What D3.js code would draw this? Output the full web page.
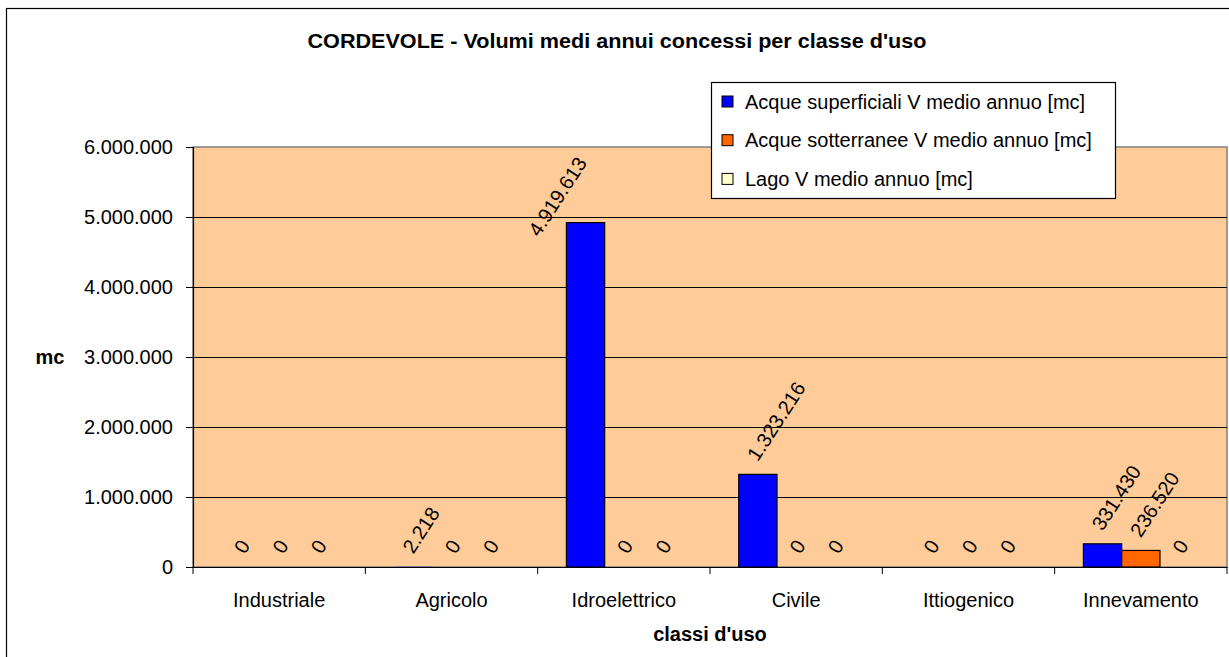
<!DOCTYPE html>
<html lang="it">
  <head>
    <meta charset="UTF-8" />
    <title>CORDEVOLE - Volumi medi annui</title>
    <style>
      body {
        margin: 0;
        background: #fff;
        font-family: "Liberation Sans", Arial, sans-serif;
      }
      svg text {
        font-family: "Liberation Sans", Arial, sans-serif;
      }
    </style>
  </head>
  <body>
    <svg id="chart" width="1229" height="657"></svg>

    <script src="https://d3js.org/d3.v7.min.js"></script>
    <script>
      // dati
      const categories = ["Industriale", "Agricolo", "Idroelettrico", "Civile", "Ittiogenico", "Innevamento"];
      const seriesNames = [
        "Acque superficiali V medio annuo [mc]",
        "Acque sotterranee V medio annuo [mc]",
        "Lago V medio annuo [mc]",
      ];
      const superficiali = [0, 2218, 4919613, 1323216, 0, 331430];
      const sotterranee = [0, 0, 0, 0, 0, 236520];
      const lago = [0, 0, 0, 0, 0, 0];
      const yTicks = [0, 1000000, 2000000, 3000000, 4000000, 5000000, 6000000];
      const colors = ["#0000FF", "#FF6600", "#FFFFCC"];

      const svg = d3.select("#chart");
      const pLeft = 193, pRight = 1227, pTop = 147, pBottom = 567;
      const fs = 20;

      const it = d3.formatLocale({ decimal: ",", thousands: ".", grouping: [3], currency: ["", ""] });
      const fmt = it.format(",d");

      // bordo area grafico
      svg.append("rect")
        .attr("x", 6.5).attr("y", 8.5)
        .attr("width", 1240).attr("height", 670)
        .attr("fill", "#fff").attr("stroke", "#000").attr("stroke-width", 1.2);

      const x = d3.scaleBand().domain(categories).range([pLeft, pRight]).padding(0);
      const y = d3.scaleLinear().domain([0, 6000000]).range([pBottom, pTop]);
      const barW = x.bandwidth() / 4.5;

      // area del tracciato
      svg.append("rect")
        .attr("x", pLeft).attr("y", pTop)
        .attr("width", pRight - pLeft).attr("height", pBottom - pTop)
        .attr("fill", "#FFCC99").attr("stroke", "#808080").attr("stroke-width", 1.5);

      // griglia
      svg.append("g")
        .attr("transform", `translate(${pLeft},0)`)
        .call(d3.axisLeft(y).tickValues(yTicks.slice(1, -1)).tickSize(-(pRight - pLeft)).tickFormat(""))
        .call((g) => g.select(".domain").remove())
        .selectAll("line").attr("stroke", "#000").attr("stroke-width", 1);

      // barre
      const series = [superficiali, sotterranee, lago];
      const bars = [];
      series.forEach((vals, s) => {
        vals.forEach((v, i) => {
          bars.push({ s, v, cat: categories[i], x0: x(categories[i]) + barW * (0.75 + s) });
        });
      });

      svg.append("g").selectAll("rect")
        .data(bars.filter((d) => d.v > 0))
        .join("rect")
        .attr("x", (d) => d.x0)
        .attr("y", (d) => y(d.v))
        .attr("width", barW)
        .attr("height", (d) => y(0) - y(d.v))
        .attr("fill", (d) => colors[d.s])
        .attr("stroke", (d) => (y(0) - y(d.v) < 1 ? "none" : "#000"))
        .attr("stroke-width", 1.2);

      // assi
      const yAxis = svg.append("g")
        .attr("transform", `translate(${pLeft},0)`)
        .call(d3.axisLeft(y).tickValues(yTicks).tickSize(7).tickPadding(13).tickFormat(fmt));
      yAxis.select(".domain").attr("stroke", "#000").attr("stroke-width", 1.2);
      yAxis.selectAll("line").attr("stroke", "#000");
      yAxis.selectAll("text").attr("font-size", fs).attr("fill", "#000");

      const xAxis = svg.append("g")
        .attr("transform", `translate(0,${pBottom})`)
        .call(d3.axisBottom(x).tickSize(0).tickPadding(26));
      xAxis.select(".domain").attr("stroke", "#000").attr("stroke-width", 1.2);
      xAxis.selectAll("text").attr("font-size", fs).attr("fill", "#000");

      // tacche ai bordi delle categorie
      svg.append("g").selectAll("line")
        .data(d3.range(categories.length + 1))
        .join("line")
        .attr("x1", (i) => pLeft + i * x.step()).attr("x2", (i) => pLeft + i * x.step())
        .attr("y1", pBottom).attr("y2", pBottom + 7)
        .attr("stroke", "#000");

      // etichette dei valori
      const ang = 57;
      const rad = (ang * Math.PI) / 180;
      const lbl = svg.append("g").selectAll("text")
        .data(bars)
        .join("text")
        .attr("font-size", fs)
        .attr("fill", "#000")
        .text((d) => fmt(d.v));
      lbl.each(function (d) {
        const t = d3.select(this);
        const cx = d.x0 + barW / 2;
        const by = y(d.v) - 12;
        const L = this.getComputedTextLength();
        if (by - L * Math.sin(rad) - 12 < pTop) {
          // troppo alta: resta dentro l'area, a sinistra della barra
          t.attr("text-anchor", "end")
            .attr("transform", `translate(${cx + 2},${pTop + 16}) rotate(${-ang})`);
        } else {
          t.attr("text-anchor", "start")
            .attr("transform", `translate(${cx + (d.v === 0 ? 4 : 0)},${by}) rotate(${-ang})`);
        }
      });

      // titoli
      svg.append("text")
        .attr("x", 617).attr("y", 48)
        .attr("text-anchor", "middle")
        .attr("font-size", 20).attr("font-weight", "bold")
        .attr("textLength", 619).attr("lengthAdjust", "spacingAndGlyphs")
        .text("CORDEVOLE - Volumi medi annui concessi per classe d'uso");

      svg.append("text")
        .attr("x", (pLeft + pRight) / 2).attr("y", 641)
        .attr("text-anchor", "middle")
        .attr("font-size", fs).attr("font-weight", "bold")
        .text("classi d'uso");

      svg.append("text")
        .attr("x", 50).attr("y", (pTop + pBottom) / 2 + 7)
        .attr("text-anchor", "middle")
        .attr("font-size", fs).attr("font-weight", "bold")
        .text("mc");

      // legenda
      const lg = svg.append("g").attr("transform", "translate(711,82)");
      lg.append("rect")
        .attr("x", 0.5).attr("y", 0.5).attr("width", 404).attr("height", 116)
        .attr("fill", "#fff").attr("stroke", "#000").attr("stroke-width", 1.2);
      const rows = lg.selectAll("g.row")
        .data(seriesNames)
        .join("g")
        .attr("class", "row")
        .attr("transform", (d, i) => `translate(0,${19.5 + i * 38.7})`);
      rows.append("rect")
        .attr("x", 11).attr("y", -5.5).attr("width", 11).attr("height", 11)
        .attr("fill", (d, i) => colors[i]).attr("stroke", "#000");
      rows.append("text")
        .attr("x", 34).attr("y", 7)
        .attr("font-size", fs).attr("fill", "#000")
        .text((d) => d);
    </script>
  </body>
</html>
